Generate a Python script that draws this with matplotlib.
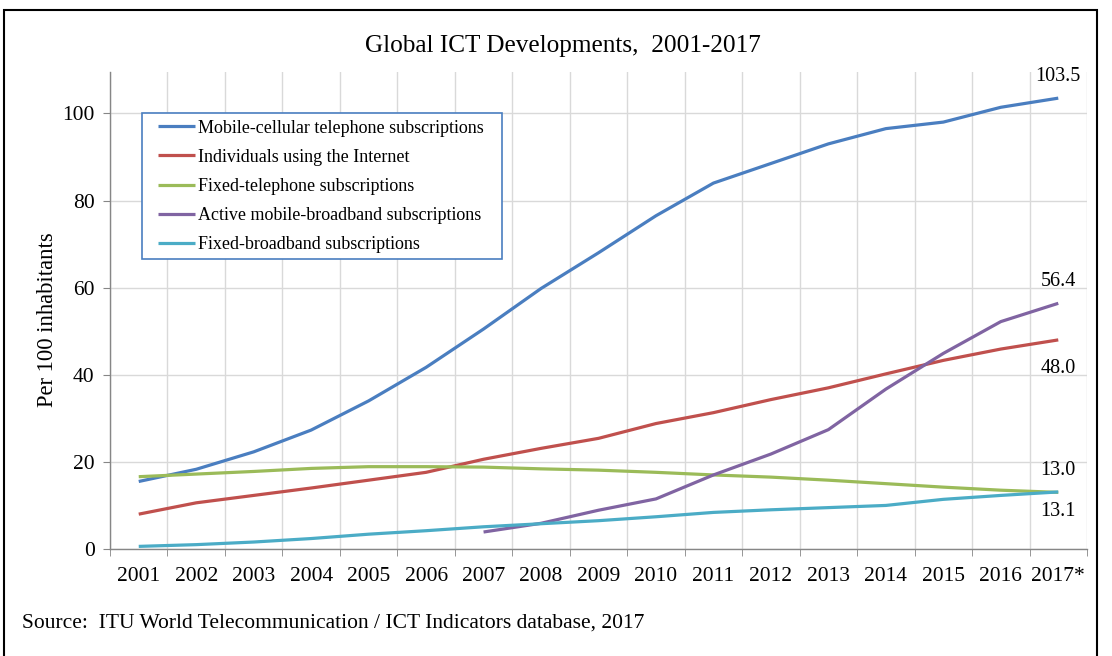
import numpy as np
import matplotlib
matplotlib.use("Agg")
import matplotlib.pyplot as plt
from matplotlib.patches import Rectangle

plt.rcParams['font.family'] = ['Liberation Serif', 'DejaVu Serif']

years = ["2001", "2002", "2003", "2004", "2005", "2006", "2007", "2008", "2009",
         "2010", "2011", "2012", "2013", "2014", "2015", "2016", "2017*"]

mobile_cellular = [15.5, 18.3, 22.3, 27.3, 34.0, 41.7, 50.5, 59.8, 68.0,
                   76.5, 84.0, 88.5, 93.0, 96.5, 98.0, 101.4, 103.5]
internet_users = [8.0, 10.6, 12.3, 14.0, 15.8, 17.6, 20.6, 23.1, 25.4,
                  28.8, 31.3, 34.3, 37.0, 40.2, 43.3, 45.9, 48.0]
fixed_telephone = [16.6, 17.2, 17.8, 18.5, 18.9, 18.9, 18.8, 18.4, 18.1,
                   17.6, 17.0, 16.5, 15.8, 15.0, 14.2, 13.5, 13.0]
# mobile broadband only reported from 2007 on
mobile_broadband = [None] * 6 + [3.9, 5.9, 8.9, 11.5, 17.0, 21.8, 27.4,
                                 36.7, 44.9, 52.2, 56.4]
fixed_broadband = [0.6, 1.0, 1.6, 2.4, 3.4, 4.2, 5.1, 5.8, 6.5,
                   7.4, 8.4, 9.0, 9.5, 10.0, 11.4, 12.3, 13.1]

series = [
    ("Mobile-cellular telephone subscriptions", mobile_cellular, "#4A7EC0"),
    ("Individuals using the Internet", internet_users, "#C0504D"),
    ("Fixed-telephone subscriptions", fixed_telephone, "#9BBB59"),
    ("Active mobile-broadband subscriptions", mobile_broadband, "#8064A2"),
    ("Fixed-broadband subscriptions", fixed_broadband, "#4BACC6"),
]

# end-of-line labels: text, value it sits next to, vertical offset in points
end_labels = [("103.5", 103.5, 15.8), ("56.4", 56.4, 15.5), ("48.0", 48.0, -20.5),
              ("13.0", 13.0, 15.5), ("13.1", 13.1, -14.0)]

fig = plt.figure(figsize=(11.12, 6.56), dpi=100)
ax = fig.add_axes([110 / 1112, 107 / 656, 977 / 1112, 477 / 656])

x = np.arange(len(years))
for name, vals, color in series:
    y = np.array([np.nan if v is None else v for v in vals], dtype=float)
    ax.plot(x, y, color=color, lw=2.3, label=name, solid_capstyle='butt')

ax.set_xlim(-0.5, len(years) - 0.5)
ax.set_ylim(0, 109.5)
ax.set_yticks(np.arange(0, 101, 20))
ax.set_xticks(x)
ax.set_xticklabels(years)
ax.set_xticks(np.arange(-0.5, len(years), 1.0), minor=True)

ax.tick_params(axis='x', which='major', length=0, labelsize=15.5, pad=13)
ax.tick_params(axis='x', which='minor', length=5, color='#868686', direction='out')
ax.tick_params(axis='y', which='major', length=5, color='#868686', labelsize=15.5, pad=6)

ax.grid(which='minor', axis='x', color='#D9D9D9', lw=1.0)
ax.grid(which='major', axis='y', color='#D9D9D9', lw=1.0)
ax.set_axisbelow(True)

for side in ('top', 'right'):
    ax.spines[side].set_visible(False)
for side in ('left', 'bottom'):
    ax.spines[side].set_color('#868686')
    ax.spines[side].set_linewidth(1.0)

ax.set_ylabel("Per 100 inhabitants", fontsize=16.3)
ax.yaxis.set_label_coords(-0.053, 0.48)

for text, val, off in end_labels:
    ax.annotate(text, xy=(len(years) - 1, val), xytext=(0, off),
                textcoords='offset points', ha='center', va='center', fontsize=14.5)

# legend entries without frame, boxed by a separate rectangle
leg = ax.legend(loc='upper left', bbox_to_anchor=(0.0491, 0.900), fontsize=13,
                frameon=False, handlelength=2.05, handletextpad=0.15,
                labelspacing=0.67, borderpad=0, borderaxespad=0)
ax.add_patch(Rectangle((0.0328, 0.608), 0.3685, 0.306, transform=ax.transAxes,
                       fill=True, facecolor='white', edgecolor='#4A7EC0',
                       lw=1.2, zorder=2.5))
leg.set_zorder(3)

fig.text(563 / 1112, 1 - 46 / 656, "Global ICT Developments,  2001-2017",
         ha='center', va='center', fontsize=18.2)
fig.text(22 / 1112, 1 - 623 / 656,
         "Source:  ITU World Telecommunication / ICT Indicators database, 2017",
         ha='left', va='center', fontsize=15.5)

# outer frame around the figure block
fig.patches.append(Rectangle((4 / 1112, -0.05), 1093 / 1112, 1.05 - 10 / 656,
                             transform=fig.transFigure, fill=False,
                             edgecolor='black', lw=1.5))

fig.savefig("out.png", dpi=100)
